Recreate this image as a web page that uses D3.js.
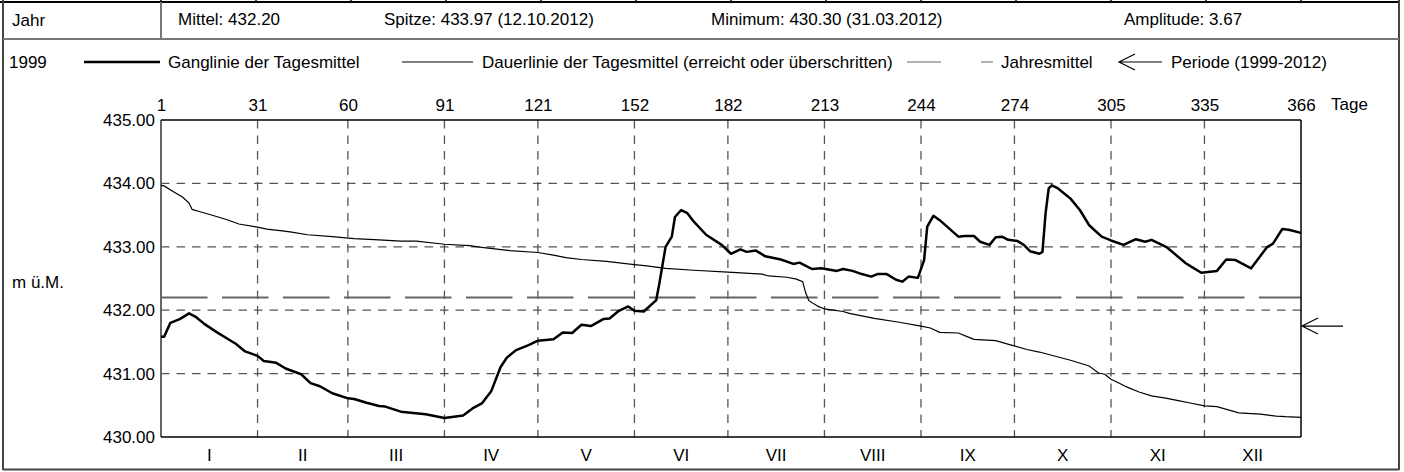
<!DOCTYPE html>
<html>
<head>
<meta charset="utf-8">
<script src="https://cdn.jsdelivr.net/npm/d3@7"></script>
<style>
  html, body { margin: 0; padding: 0; background: #fff; }
  svg { display: block; }
  text { font-family: "Liberation Sans", Arial, sans-serif; font-size: 17px; fill: #000; }
</style>
</head>
<body>
<svg id="chart" width="1404" height="472"></svg>
<script>
// ---------- data ----------
const headerLabel = "Jahr";
const statTexts = ["Mittel: 432.20", "Spitze: 433.97 (12.10.2012)", "Minimum: 430.30 (31.03.2012)", "Amplitude: 3.67"];
const yearLabel = "1999";
const legendTexts = ["Ganglinie der Tagesmittel", "Dauerlinie der Tagesmittel (erreicht oder überschritten)", "Jahresmittel", "Periode (1999-2012)"];
const unitLabel = "m ü.M.";
const dayUnitLabel = "Tage";

const dayTickPos = [0, 31, 60, 91, 121, 152, 182, 213, 244, 274, 305, 335, 366];
const dayTickLabels = ["1", "31", "60", "91", "121", "152", "182", "213", "244", "274", "305", "335", "366"];
const monthLabels = ["I", "II", "III", "IV", "V", "VI", "VII", "VIII", "IX", "X", "XI", "XII"];
const yTicks = [430, 431, 432, 433, 434, 435];

const yearMean = 432.20;
const periodMean = 431.75;

// Ganglinie der Tagesmittel (day, value)
const gangDays = [0,1,3,6,9,11,14,18,22,24,27,31,33,37,40,45,48,51,55,60,62,66,70,72,77,85,91,97,100,103,106,109,111,114,118,121,126,129,132,135,138,142,144,147,150,152,155,159,160,162,164,165,167,169,171,175,180,183,186,188,191,194,199,203,205,209,212,217,219,222,225,228,230,233,236,238,240,243,245,246,248,250,253,256,258,261,263,266,268,270,272,275,277,279,282,283,284,285,286,288,292,295,298,302,305,309,313,316,318,323,329,331,334,339,342,345,350,355,357,360,362,366];
const gangValues = [431.58,431.58,431.80,431.86,431.95,431.90,431.78,431.65,431.53,431.47,431.35,431.28,431.20,431.17,431.08,430.99,430.85,430.80,430.69,430.61,430.60,430.54,430.49,430.48,430.40,430.36,430.30,430.34,430.45,430.53,430.72,431.10,431.25,431.37,431.45,431.52,431.54,431.65,431.64,431.77,431.75,431.86,431.87,431.99,432.06,431.99,431.98,432.16,432.42,433.00,433.16,433.47,433.58,433.53,433.40,433.19,433.03,432.89,432.96,432.92,432.94,432.85,432.80,432.73,432.75,432.65,432.66,432.62,432.65,432.62,432.57,432.53,432.57,432.57,432.48,432.45,432.53,432.51,432.79,433.32,433.49,433.42,433.29,433.16,433.17,433.17,433.08,433.03,433.15,433.16,433.11,433.09,433.03,432.93,432.89,432.92,433.53,433.92,433.97,433.92,433.76,433.58,433.34,433.16,433.10,433.03,433.12,433.08,433.11,432.99,432.74,432.68,432.59,432.62,432.80,432.79,432.66,432.99,433.05,433.28,433.27,433.22];

// Dauerlinie der Tagesmittel (day, value)
const dauerDays = [0,1,4,7,9,10,12,17,21,25,31,34,39,42,47,55,62,70,77,82,91,99,103,112,121,126,130,135,143,152,156,162,171,182,193,195,201,204,206,207,208,211,213,219,221,229,237,244,247,250,256,259,261,268,273,278,282,292,298,301,303,305,308,310,314,318,323,327,330,335,339,346,353,358,361,366];
const dauerValues = [433.97,433.96,433.87,433.78,433.69,433.59,433.56,433.49,433.43,433.36,433.31,433.28,433.25,433.23,433.19,433.16,433.13,433.11,433.09,433.09,433.04,433.02,432.99,432.94,432.91,432.87,432.83,432.80,432.77,432.72,432.70,432.66,432.63,432.60,432.57,432.54,432.52,432.49,432.45,432.27,432.15,432.06,432.02,431.98,431.95,431.87,431.81,431.75,431.72,431.65,431.64,431.58,431.54,431.52,431.45,431.38,431.34,431.21,431.12,431.01,430.99,430.91,430.84,430.79,430.71,430.65,430.61,430.57,430.54,430.49,430.48,430.38,430.36,430.33,430.32,430.31];

// ---------- drawing ----------
const svg = d3.select("#chart");
const plot = { left: 161, right: 1301, top: 120, bottom: 437 };
const FS = 17;

const x = d3.scaleLinear().domain([0, 366]).range([plot.left, plot.right]);
const y = d3.scaleLinear().domain([430, 435]).range([plot.bottom, plot.top]);

// outer frame & header table
const frameColor = "#444";
svg.append("line").attr("x1", 0).attr("x2", 1400).attr("y1", 2).attr("y2", 2).attr("stroke", "#000").attr("stroke-width", 2);
d3.range(0, 13).forEach(i => {
  const xx = 161 + i * 95;
  svg.append("line").attr("x1", xx).attr("x2", xx).attr("y1", 0).attr("y2", 2).attr("stroke", "#000").attr("stroke-width", 1.5);
});
svg.append("line").attr("x1", 3).attr("x2", 3).attr("y1", 0).attr("y2", 470).attr("stroke", frameColor).attr("stroke-width", 2);
svg.append("line").attr("x1", 1399).attr("x2", 1399).attr("y1", 0).attr("y2", 470).attr("stroke", frameColor).attr("stroke-width", 2);
svg.append("line").attr("x1", 3).attr("x2", 1399).attr("y1", 469.5).attr("y2", 469.5).attr("stroke", frameColor).attr("stroke-width", 2);
svg.append("line").attr("x1", 3).attr("x2", 1399).attr("y1", 39).attr("y2", 39).attr("stroke", "#777").attr("stroke-width", 2);
svg.append("line").attr("x1", 161).attr("x2", 161).attr("y1", 2).attr("y2", 39).attr("stroke", "#777").attr("stroke-width", 2);

svg.append("text").attr("x", 12).attr("y", 20).attr("dominant-baseline", "central").text(headerLabel);
const statX = [178, 384, 711, 1124];
statTexts.forEach((t, i) => {
  svg.append("text").attr("x", statX[i]).attr("y", 19).attr("dominant-baseline", "central").text(t);
});

// legend row
const ly = 62;
svg.append("text").attr("x", 9).attr("y", ly).attr("dominant-baseline", "central").text(yearLabel);
svg.append("line").attr("x1", 84).attr("x2", 160).attr("y1", ly).attr("y2", ly).attr("stroke", "#000").attr("stroke-width", 2.5);
svg.append("text").attr("x", 168).attr("y", ly).attr("dominant-baseline", "central").text(legendTexts[0]);
svg.append("line").attr("x1", 402).attr("x2", 473).attr("y1", ly).attr("y2", ly).attr("stroke", "#000").attr("stroke-width", 1.2);
svg.append("text").attr("x", 482).attr("y", ly).attr("dominant-baseline", "central").text(legendTexts[1]);
svg.append("line").attr("x1", 907).attr("x2", 993).attr("y1", ly).attr("y2", ly).attr("stroke", "#666").attr("stroke-width", 1.2).attr("stroke-dasharray", "34,40,12");
svg.append("text").attr("x", 1001).attr("y", ly).attr("dominant-baseline", "central").text(legendTexts[2]);
function arrow(g, tipX, yy, len) {
  g.append("path")
    .attr("d", `M${tipX + len},${yy}H${tipX}M${tipX + 16},${yy - 8}L${tipX},${yy}L${tipX + 16},${yy + 8}`)
    .attr("fill", "none").attr("stroke", "#000").attr("stroke-width", 1.2);
}
arrow(svg, 1119, ly, 43);
svg.append("text").attr("x", 1171).attr("y", ly).attr("dominant-baseline", "central").text(legendTexts[3]);

// grid
const gridColor = "#555";
svg.append("g").selectAll("line").data(yTicks.filter(v => v > 430 && v < 435)).join("line")
  .attr("x1", plot.left).attr("x2", plot.right)
  .attr("y1", d => y(d)).attr("y2", d => y(d))
  .attr("stroke", gridColor).attr("stroke-width", 1.3).attr("stroke-dasharray", "8.5,7");
svg.append("g").selectAll("line").data(dayTickPos.slice(1, -1)).join("line")
  .attr("x1", d => x(d)).attr("x2", d => x(d))
  .attr("y1", plot.top).attr("y2", plot.bottom)
  .attr("stroke", gridColor).attr("stroke-width", 1.3).attr("stroke-dasharray", "8.5,7");

// year mean
svg.append("line").attr("x1", plot.left).attr("x2", plot.right)
  .attr("y1", y(yearMean)).attr("y2", y(yearMean))
  .attr("stroke", "#666").attr("stroke-width", 2).attr("stroke-dasharray", "46.5,14.5");

// axes via d3
const yAxis = d3.axisLeft(y).tickValues(yTicks).tickFormat(d3.format(".2f")).tickSize(0).tickPadding(6);
const gy = svg.append("g").attr("transform", `translate(${plot.left},0)`).call(yAxis);
gy.select(".domain").remove();
gy.selectAll("text").attr("font-size", FS).attr("font-family", "Liberation Sans, Arial, sans-serif").attr("fill", "#000");

const xAxisTop = d3.axisTop(x).tickValues(dayTickPos).tickFormat((d, i) => dayTickLabels[i]).tickSize(0).tickPadding(9);
const gx = svg.append("g").attr("transform", `translate(0,${plot.top})`).call(xAxisTop);
gx.select(".domain").remove();
gx.selectAll("text").attr("font-size", FS).attr("font-family", "Liberation Sans, Arial, sans-serif").attr("fill", "#000");

svg.append("text").attr("x", 1331).attr("y", 104).attr("dominant-baseline", "central").text(dayUnitLabel);
svg.append("text").attr("x", 12).attr("y", 282).attr("dominant-baseline", "central").text(unitLabel);

// month labels
const monthMid = monthLabels.map((m, i) => (dayTickPos[i] + dayTickPos[i + 1]) / 2);
svg.append("g").selectAll("text").data(monthLabels).join("text")
  .attr("x", (d, i) => x(monthMid[i])).attr("y", 455)
  .attr("text-anchor", "middle").attr("dominant-baseline", "central").text(d => d);

// plot frame
svg.append("line").attr("x1", plot.left).attr("x2", plot.left).attr("y1", plot.top).attr("y2", plot.bottom).attr("stroke", "#666").attr("stroke-width", 2);
svg.append("line").attr("x1", plot.left).attr("x2", plot.right).attr("y1", plot.top).attr("y2", plot.top).attr("stroke", "#000").attr("stroke-width", 1.5);
svg.append("line").attr("x1", plot.right).attr("x2", plot.right).attr("y1", plot.top).attr("y2", plot.bottom).attr("stroke", "#000").attr("stroke-width", 1.5);
svg.append("line").attr("x1", plot.left).attr("x2", plot.right).attr("y1", plot.bottom).attr("y2", plot.bottom).attr("stroke", "#000").attr("stroke-width", 1.5);

// series
const line = d3.line().x(d => x(d[0])).y(d => y(d[1]));
svg.append("path").datum(dauerDays.map((d, i) => [d, dauerValues[i]]))
  .attr("d", line).attr("fill", "none").attr("stroke", "#000").attr("stroke-width", 1.2);
svg.append("path").datum(gangDays.map((d, i) => [d, gangValues[i]]))
  .attr("d", line).attr("fill", "none").attr("stroke", "#000").attr("stroke-width", 2.5).attr("stroke-linejoin", "round");

// period mean arrow
arrow(svg, plot.right + 1, y(periodMean), 41);
</script>
</body>
</html>
